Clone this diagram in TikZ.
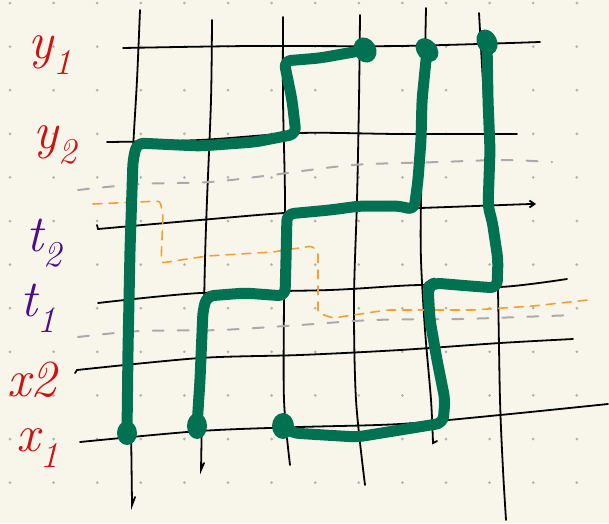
\documentclass[tikz,border=0pt]{standalone}
\usepackage{amsmath,amssymb}
\usepackage{xcolor}
\usepackage{tikz}
\usetikzlibrary{arrows.meta,calc}
\definecolor{paper}{RGB}{248,246,235}
\definecolor{dotgray}{RGB}{178,178,178}
\definecolor{dashgray}{RGB}{170,170,170}
\definecolor{wireorange}{RGB}{245,160,48}
\definecolor{pathgreen}{RGB}{0,114,82}
\definecolor{labelred}{RGB}{206,18,18}
\definecolor{labelpurple}{RGB}{76,12,140}
\tikzset{
  gridline/.style={
    line width=1.8pt,
    black,
    line cap=round
  },
  greenpath/.style={
    line width=11pt,
    pathgreen,
    line cap=round,
    line join=round,
    rounded corners=7pt
  },
  blob/.style={
    fill=pathgreen
  },
  grayline/.style={
    line width=2pt,
    dashgray,
    dash pattern=on 11pt off 14pt,
    line cap=round
  },
  orangeline/.style={
    line width=1.6pt,
    wireorange,
    dash pattern=on 9pt off 7pt,
    line cap=round,
    rounded corners=3pt
  },
  redlabel/.style={
    text=labelred,
    inner sep=0pt,
    font=\fontsize{52}{52}\selectfont\itshape
  },
  purplelabel/.style={
    text=labelpurple,
    inner sep=0pt,
    font=\fontsize{52}{52}\selectfont\itshape
  }
}

\begin{document}
\begin{tikzpicture}[x=1pt,y=-1pt]
\fill[paper] (0,0) rectangle (609,523);
\useasboundingbox (0,0) rectangle (609,523);
% dot paper
\foreach \i in {0,...,13}
  \foreach \j in {0,...,11}
    \fill[dotgray] (10+43.6*\i,3+43.6*\j) circle (1.5);
% vertical lines
\draw[gridline] plot[smooth] coordinates {(140,10) (137,80) (133,150) (128,260) (129,350) (131,430) (132,505)} -- (135,497);
\draw[gridline] plot[smooth] coordinates {(212,20) (211,100) (207,200) (205,260) (203,360) (201,470)} -- (204,463);
\draw[gridline] plot[smooth] coordinates {(283,17) (283,100) (285,200) (284,300) (284,400) (290,465)};
\draw[gridline] plot[smooth] coordinates {(360,15) (359,100) (357,200) (354,300) (356,400) (365,485)};
\draw[gridline] plot[smooth] coordinates {(426,8) (424,100) (421,200) (421,260) (425,330) (431,400) (433,443)} -- (437,441);
\draw[gridline] plot[smooth] coordinates {(479,13) (484,100) (490,200) (497,260) (500,400) (503,470) (506,520)};
% horizontal lines
\draw[gridline] plot[smooth] coordinates {(123,48) (250,46) (400,46) (540,42)};
\draw[gridline] plot[smooth] coordinates {(107,142) (200,140) (300,133) (400,134) (517,134)};
\draw[gridline] (97,225) -- plot[smooth] coordinates {(98,229) (200,220) (300,212) (420,208) (530,204)};
\draw[gridline,-{Straight Barb[length=5pt,width=7pt]}] (528,204) -- (536,204);
\draw[gridline] plot[smooth] coordinates {(98,303) (200,293) (330,290) (420,285) (500,287) (567,279)};
\draw[gridline] (75,373) -- plot[smooth] coordinates {(77,370) (200,358) (300,355) (400,350) (500,343) (573,339)};
\draw[gridline] plot[smooth] coordinates {(80,442) (200,431) (300,427) (400,424) (500,415) (608,404)};
% gray dashed cuts
\draw[grayline] plot[smooth] coordinates {(78,190) (140,184) (210,182) (272,175) (353,165) (440,162) (503,160) (552,162)};
\draw[grayline] plot[smooth] coordinates {(78,337) (140,331) (220,330) (300,325) (373,320) (460,319) (520,317) (575,315)};
% orange dashed wire
\draw[orangeline] (93,204) -- (160,201) -- (163,215) -- (161,263) -- (207,256) -- (273,252)
  -- (312,246) -- (318,252) -- (318,313) -- (333,318) -- (387,310) -- (473,310) -- (533,306) -- (588,300);
% green paths
\coordinate (a0) at (127,433);
\coordinate (a1) at (365,50);
\coordinate (b0) at (197,426);
\coordinate (b1) at (427,50);
\coordinate (c0) at (283,426);
\coordinate (c1) at (487,42);
\draw[greenpath] (a0) -- (128,350) -- (130,250) -- (133,160) -- (137,143) -- (200,146) -- (255,142)
  -- (296,134) -- (292,100) -- (284,61) -- (320,58) -- (a1);
\draw[greenpath] (b0) -- (200,380) -- (203,310) -- (207,296) -- (245,293) -- (285,296) -- (286,260)
  -- (287,214) -- (330,210) -- (360,206) -- (400,206) -- (414,210) -- (418,180) -- (421,140)
  -- (422,100) -- (b1);
\draw[greenpath] (c0) -- (292,433) -- (357,437) -- (400,430) -- (443,423) -- (445,400) -- (437,360)
  -- (430,320) -- (428,287) -- (434,283) -- (470,286) -- (497,288) -- (498,260) -- (492,220)
  -- (488,207) -- (490,150) -- (488,100) -- (c1);
% end blobs
\fill[blob] (a0) ellipse [x radius=10pt, y radius=12pt];
\fill[blob] (b0) ellipse [x radius=10pt, y radius=13pt];
\fill[blob] (c0) ellipse [x radius=11pt, y radius=13pt];
\fill[blob, rotate around={30:(a1)}] (a1) ellipse [x radius=11pt, y radius=13pt];
\fill[blob, rotate around={40:(b1)}] (b1) ellipse [x radius=10pt, y radius=13pt];
\fill[blob, rotate around={25:(c1)}] (c1) ellipse [x radius=10pt, y radius=13pt];
% labels
\node[redlabel] (ly1) at (50,55) {y\textsubscript{1}};
\node[redlabel] (ly2) at (55,145) {y\textsubscript{2}};
\node[purplelabel] (lt2) at (44,243) {t\textsubscript{2}};
\node[purplelabel] (lt1) at (38,308) {t\textsubscript{1}};
\node[redlabel] (lx2) at (32,380) {x2};
\node[redlabel] (lx1) at (38,448) {x\textsubscript{1}};
\end{tikzpicture}
\end{document}
